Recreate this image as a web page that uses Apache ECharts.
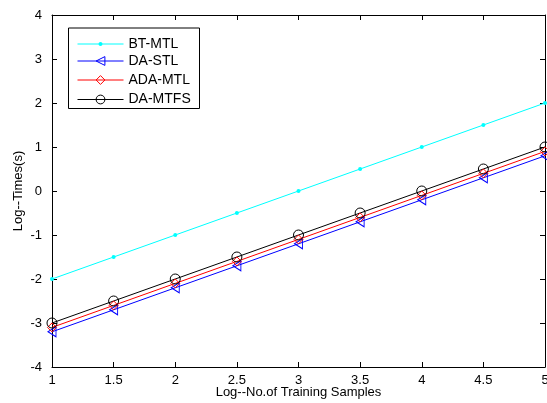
<!DOCTYPE html>
<html><head><meta charset="utf-8">
<script src="https://cdn.jsdelivr.net/npm/echarts@6/dist/echarts.min.js"></script>
<style>html,body{margin:0;padding:0;background:#fff}#c{width:547px;height:403px}</style>
</head><body><div id="c"></div>
<script>
var xValues = [1, 1.5, 2, 2.5, 3, 3.5, 4, 4.5, 5];
var btMtl  = [-2, -1.5, -1, -0.5, 0, 0.5, 1, 1.5, 2];
var daStl  = [-3.2, -2.7, -2.2, -1.7, -1.2, -0.7, -0.2, 0.3, 0.8];
var adaMtl = [-3.1, -2.6, -2.1, -1.6, -1.1, -0.6, -0.1, 0.4, 0.9];
var daMtfs = [-3, -2.5, -2, -1.5, -1, -0.5, 0, 0.5, 1];
var seriesNames = ['BT-MTL', 'DA-STL', 'ADA-MTL', 'DA-MTFS'];
var xTitle = 'Log--No.of Training Samples';
var yTitle = 'Log--Times(s)';

function pairs(ys){ return xValues.map(function(x,i){ return [x, ys[i]]; }); }
var font = 'Liberation Sans, Arial, sans-serif';
var chart = echarts.init(document.getElementById('c'), null, {renderer:'canvas'});
var axisLine = {show:true, onZero:false, lineStyle:{color:'#000', width:1}};
var tickIn = {show:true, inside:true, length:5, lineStyle:{color:'#000'}};
var legendCenters = [39.5, 59.5, 78.5, 98];
var legendHeights = [5, 11, 11, 11];
var legends = seriesNames.map(function(n, i){
  return {
    left:77, top:legendCenters[i] - legendHeights[i]/2, orient:'vertical',
    data:[n], padding:0, itemWidth:46, itemHeight:legendHeights[i],
    lineStyle:{width:1}, itemStyle:{borderWidth:1},
    textStyle:{fontFamily:font, fontSize:14, color:'#000'}, selectedMode:false
  };
});
chart.setOption({
  animation:false,
  backgroundColor:'#fff',
  grid:{left:52, right:2, top:15, bottom:36, containLabel:false, outerBoundsMode:'none'},
  graphic:[{type:'rect', left:68, top:27.5, z:3,
    shape:{width:131, height:80.5},
    style:{fill:'#fff', stroke:'#000', lineWidth:1}}],
  legend:legends,
  xAxis:[{
    type:'value', min:1, max:5, interval:0.5, position:'bottom',
    axisLine:axisLine, axisTick:tickIn, splitLine:{show:false},
    axisLabel:{color:'#000', fontFamily:font, fontSize:13, margin:7},
    name:xTitle, nameLocation:'middle', nameGap:19, nameMoveOverlap:false,
    nameTextStyle:{color:'#000', fontFamily:font, fontSize:13}
  },{
    type:'value', min:1, max:5, interval:0.5, position:'top',
    axisLine:axisLine, axisTick:tickIn, splitLine:{show:false}, axisLabel:{show:false}
  }],
  yAxis:[{
    type:'value', min:-4, max:4, interval:1, position:'left',
    axisLine:axisLine, axisTick:tickIn, splitLine:{show:false},
    axisLabel:{color:'#000', fontFamily:font, fontSize:13, margin:10},
    name:yTitle, nameLocation:'middle', nameGap:27, nameMoveOverlap:false,
    nameTextStyle:{color:'#000', fontFamily:font, fontSize:13}
  },{
    type:'value', min:-4, max:4, interval:1, position:'right',
    axisLine:axisLine, axisTick:tickIn, splitLine:{show:false}, axisLabel:{show:false}
  }],
  series:[
    {name:seriesNames[0], type:'line', data:pairs(btMtl),
     symbol:'circle', symbolSize:4, lineStyle:{width:1, color:'#00ffff'},
     itemStyle:{color:'#00ffff'}},
    {name:seriesNames[1], type:'line', data:pairs(daStl),
     symbol:'triangle', symbolRotate:90, symbolSize:[10,8], lineStyle:{width:1, color:'#0000ff'},
     itemStyle:{color:'rgba(0,0,0,0)', borderColor:'#0000ff', borderWidth:1}},
    {name:seriesNames[2], type:'line', data:pairs(adaMtl),
     symbol:'diamond', symbolSize:9, lineStyle:{width:1, color:'#ff0000'},
     itemStyle:{color:'rgba(0,0,0,0)', borderColor:'#ff0000', borderWidth:1}},
    {name:seriesNames[3], type:'line', data:pairs(daMtfs),
     symbol:'circle', symbolSize:10, lineStyle:{width:1, color:'#000'},
     itemStyle:{color:'rgba(0,0,0,0)', borderColor:'#000', borderWidth:1}}
  ]
});
</script></body></html>
